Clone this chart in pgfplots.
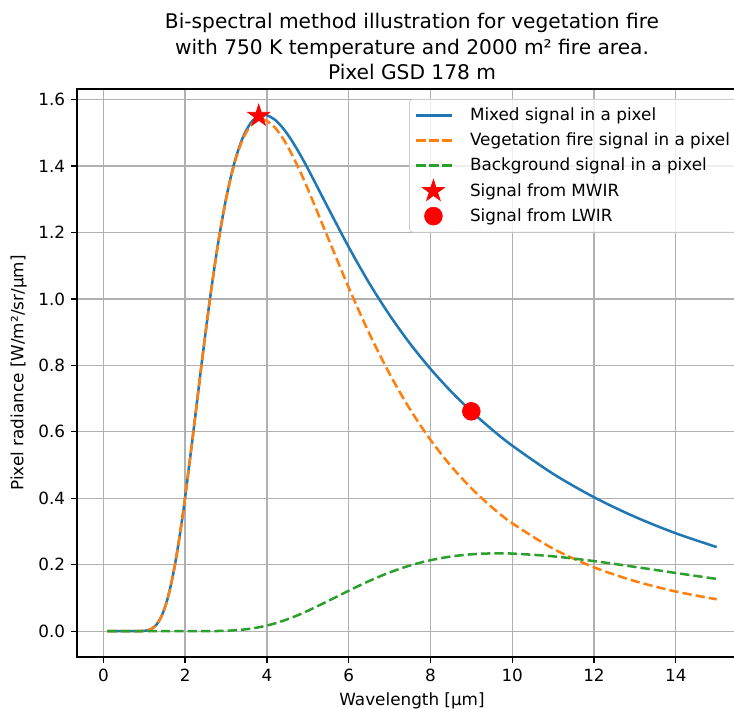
\documentclass[border=0pt]{standalone}
\usepackage{fontspec}
\setmainfont{DejaVu Sans}
\usepackage{pgfplots}
\pgfplotsset{compat=1.18}
\usepackage{pgfplotstable}

\definecolor{c0}{HTML}{1F77B4}
\definecolor{c1}{HTML}{FF7F0E}
\definecolor{c2}{HTML}{2CA02C}
\definecolor{gridc}{HTML}{B0B0B0}
\definecolor{legc}{HTML}{CCCCCC}

% filled five-pointed star, like matplotlib's '*'
\pgfdeclareplotmark{fstar}{%
  \pgfpathmoveto{\pgfpointpolar{90}{\pgfplotmarksize}}%
  \pgfpathlineto{\pgfpointpolar{126}{0.382*\pgfplotmarksize}}%
  \pgfpathlineto{\pgfpointpolar{162}{\pgfplotmarksize}}%
  \pgfpathlineto{\pgfpointpolar{198}{0.382*\pgfplotmarksize}}%
  \pgfpathlineto{\pgfpointpolar{234}{\pgfplotmarksize}}%
  \pgfpathlineto{\pgfpointpolar{270}{0.382*\pgfplotmarksize}}%
  \pgfpathlineto{\pgfpointpolar{306}{\pgfplotmarksize}}%
  \pgfpathlineto{\pgfpointpolar{342}{0.382*\pgfplotmarksize}}%
  \pgfpathlineto{\pgfpointpolar{18}{\pgfplotmarksize}}%
  \pgfpathlineto{\pgfpointpolar{54}{0.382*\pgfplotmarksize}}%
  \pgfpathclose
  \pgfusepathqfillstroke
}

% wavelength [um], mixed pixel, fire part, background part
\pgfplotstableread{
lam mixed fire bg
0.1 0.0000 0.0000 0.0000
0.5 0.0000 0.0000 0.0000
0.8 0.0000 0.0000 0.0000
1.0 0.0009 0.0009 0.0000
1.1 0.0031 0.0031 0.0000
1.2 0.0087 0.0087 0.0000
1.3 0.0198 0.0198 0.0000
1.4 0.0393 0.0393 0.0000
1.5 0.0694 0.0694 0.0000
1.6 0.1117 0.1117 0.0000
1.7 0.1670 0.1670 0.0000
1.8 0.2349 0.2349 0.0000
1.9 0.3141 0.3141 0.0000
2.0 0.4027 0.4027 0.0000
2.2 0.5981 0.5981 0.0000
2.4 0.8009 0.8008 0.0001
2.6 0.9930 0.9928 0.0002
2.8 1.1621 1.1615 0.0006
3.0 1.3009 1.2996 0.0013
3.2 1.4074 1.4048 0.0026
3.4 1.4822 1.4776 0.0046
3.6 1.5287 1.5211 0.0076
3.8 1.5508 1.5391 0.0117
3.9 1.5539 1.5397 0.0142
4.0 1.5528 1.5358 0.0170
4.2 1.5388 1.5152 0.0236
4.4 1.5128 1.4814 0.0314
4.6 1.4781 1.4377 0.0404
4.8 1.4371 1.3867 0.0504
5.0 1.3924 1.3311 0.0613
5.5 1.2733 1.1823 0.0910
6.0 1.1562 1.0344 0.1218
6.5 1.0481 0.8971 0.1510
7.0 0.9514 0.7747 0.1767
7.5 0.8656 0.6679 0.1977
8.0 0.7896 0.5760 0.2136
8.5 0.7220 0.4973 0.2247
9.0 0.6617 0.4303 0.2314
9.5 0.6074 0.3733 0.2341
10 0.5585 0.3249 0.2336
11 0.4736 0.2483 0.2253
12 0.4031 0.1922 0.2109
13 0.3442 0.1507 0.1935
14 0.2947 0.1195 0.1752
15 0.2532 0.0959 0.1573
}\radtable

\begin{document}
\begin{tikzpicture}
% the reference is cut at the right, just before the right spine
\useasboundingbox (-45.8pt,-30.9pt) rectangle (390.9pt,390.9pt);
\begin{axis}[
  at={(0pt,0pt)}, anchor=south west,
  scale only axis, width=398.7pt, height=338pt,
  xmin=-0.645, xmax=15.745, ymin=-0.0777, ymax=1.632,
  axis line style={line width=0.8pt},
  tick style={line width=0.8pt, black},
  tick align=outside, major tick length=3.5pt,
  xtick pos=left, ytick pos=left,
  grid=major, major grid style={line width=0.8pt, color=gridc},
  xtick={0,2,4,6,8,10,12,14},
  ytick={0,0.2,0.4,0.6,0.8,1.0,1.2,1.4,1.6},
  yticklabel style={/pgf/number format/.cd, fixed, fixed zerofill, precision=1},
  /pgf/number format/assume math mode=true,
  tick label style={font=\fontsize{10}{12}\selectfont},
  label style={font=\fontsize{10}{12}\selectfont},
  xlabel={Wavelength [µm]},
  ylabel={Pixel radiance [W/m²/sr/µm]},
  title={Bi-spectral method illustration for vegetation fire\\with 750 K temperature and 2000 m² fire area.\\Pixel GSD 178 m},
  title style={font=\fontsize{12}{15}\selectfont, align=center, yshift=-4pt},
  legend style={at={(1,1)}, anchor=north east, xshift=-5pt, yshift=-6pt,
    draw=legc, rounded corners=2pt, fill=white, fill opacity=0.8, text opacity=1,
    font=\fontsize{10}{12}\selectfont, inner xsep=3pt, inner ysep=3pt,
    row sep=1.8pt,
    /tikz/every odd column/.append style={column sep=8.5pt}},
  legend cell align=left,
  legend image code/.code={\draw[opacity=1, mark repeat=2, mark phase=2] plot coordinates {(0cm,0cm) (0.37cm,0cm) (0.74cm,0cm)};},
]
\addplot[c0, line width=1.5pt, smooth, legend image post style={line width=1.5pt}] table[x=lam, y=mixed]{\radtable};
\addlegendentry{Mixed signal in a pixel}
\addplot[c1, line width=1.5pt, dash pattern=on 5.55pt off 2.4pt, smooth, legend image post style={line width=1.5pt}] table[x=lam, y=fire]{\radtable};
\addlegendentry{Vegetation fire signal in a pixel}
\addplot[c2, line width=1.5pt, dash pattern=on 5.55pt off 2.4pt, smooth, legend image post style={line width=1.5pt}] table[x=lam, y=bg]{\radtable};
\addlegendentry{Background signal in a pixel}
\addplot[only marks, mark=fstar, mark size=6.9pt, red, fill=red] coordinates {(3.8,1.5508)};
\addlegendentry{Signal from MWIR}
\addplot[only marks, mark=*, mark size=5.3pt, red, fill=red] coordinates {(9,0.6617)};
\addlegendentry{Signal from LWIR}
\end{axis}
\end{tikzpicture}
\end{document}
